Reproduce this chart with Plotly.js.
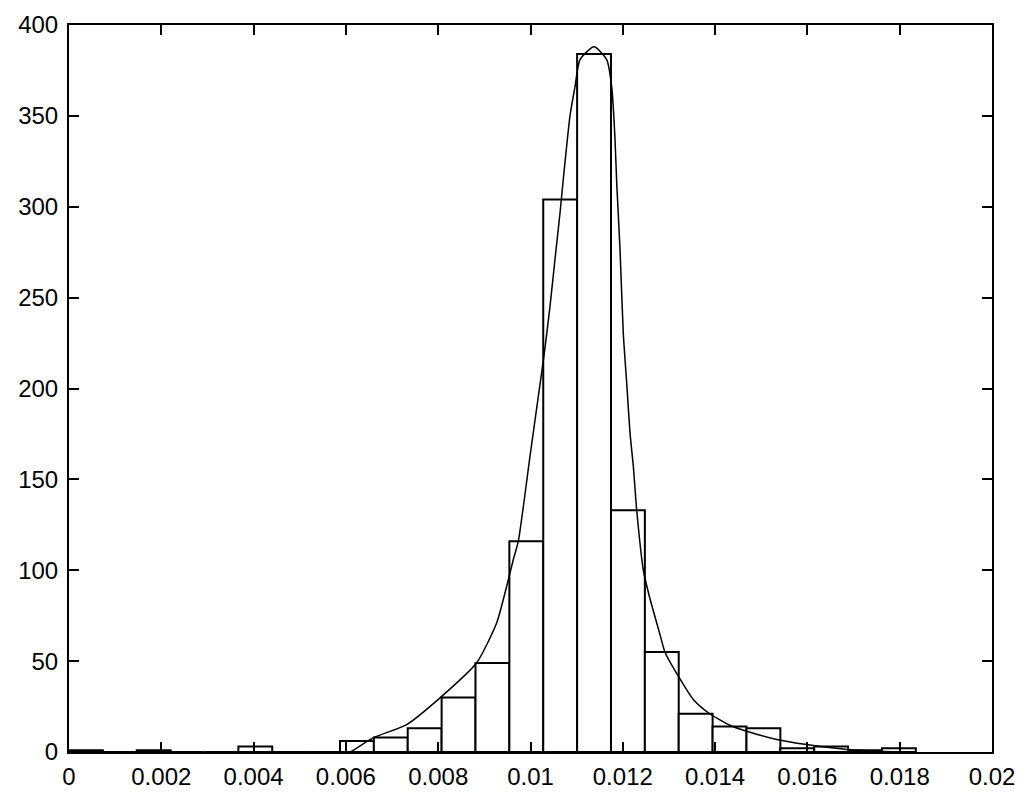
<!DOCTYPE html>
<html>
<head>
<meta charset="utf-8">
<script src="https://cdn.plot.ly/plotly-3.0.1.min.js"></script>
<style>
  html, body { margin: 0; padding: 0; background: #fff; }
  #chart { width: 1024px; height: 800px; }
</style>
</head>
<body>
<div id="chart"></div>
<script>
// Histogram bin centres (25 bins) and counts
var binCenters = [0.000367, 0.001101, 0.001835, 0.002569, 0.003303, 0.004037, 0.004771,
  0.005505, 0.006239, 0.006973, 0.007707, 0.008441, 0.009175, 0.009909, 0.010643,
  0.011377, 0.012111, 0.012845, 0.013579, 0.014313, 0.015047, 0.015781, 0.016515,
  0.017249, 0.017983];
var binWidth = 0.000734;
var counts = [1, 0, 1, 0, 0, 3, 0, 0, 6, 8, 13, 30, 49, 116, 304, 384, 133, 55, 21, 14, 13, 2, 3, 1, 2];

// Fitted curve points
var fitX = [0.006104, 0.006594, 0.007317, 0.008039, 0.008834, 0.009268, 0.009484, 0.009628,
  0.009736, 0.009989, 0.01019, 0.0103, 0.010423, 0.01053, 0.01064, 0.01071, 0.010856,
  0.010964, 0.011073, 0.011376, 0.011651, 0.01176, 0.01183, 0.011868, 0.01194, 0.01201,
  0.012085, 0.012156, 0.012228, 0.0123, 0.012445, 0.012575, 0.012806, 0.012914, 0.013203,
  0.013528, 0.013853, 0.014323, 0.014685, 0.015335, 0.015985, 0.016852, 0.01785];
var fitY = [0, 7.8, 15.1, 29.8, 49.1, 71.1, 91.2, 105.9, 116, 162.7, 199.4, 219.6, 245.3,
  271, 296.7, 315, 350, 366, 381, 388, 381, 366, 338, 313, 276.5, 230.6, 203, 175.6, 157.2,
  133.4, 100, 85.7, 64.6, 54.9, 41.7, 28.9, 21.6, 14.7, 11.4, 6.9, 4.1, 1.4, 0.1];

// Tick labels
var xTickVals = [0, 0.002, 0.004, 0.006, 0.008, 0.01, 0.012, 0.014, 0.016, 0.018, 0.02];
var xTickText = ['0', '0.002', '0.004', '0.006', '0.008', '0.01', '0.012', '0.014', '0.016', '0.018', '0.02'];
var yTickVals = [0, 50, 100, 150, 200, 250, 300, 350, 400];
var yTickText = ['0', '50', '100', '150', '200', '250', '300', '350', '400'];

var widths = binCenters.map(function () { return binWidth; });

var bars = {
  type: 'bar',
  x: binCenters,
  y: counts,
  width: widths,
  marker: { color: '#ffffff', line: { color: '#000000', width: 2 } },
  hoverinfo: 'x+y',
  showlegend: false
};

var curve = {
  type: 'scatter',
  mode: 'lines',
  x: fitX,
  y: fitY,
  line: { color: '#000000', width: 1.5, shape: 'spline', smoothing: 0.6 },
  showlegend: false
};

var axisCommon = {
  showline: true,
  linecolor: '#000000',
  linewidth: 2,
  mirror: 'ticks',
  ticks: 'inside',
  ticklen: 10,
  tickwidth: 2,
  tickcolor: '#000000',
  showgrid: false,
  zeroline: false,
  tickfont: { family: 'Liberation Sans, Arial, sans-serif', size: 24, color: '#000000' }
};

var layout = {
  width: 1024,
  height: 800,
  margin: { l: 69, r: 32, t: 25, b: 48 },
  paper_bgcolor: '#ffffff',
  plot_bgcolor: '#ffffff',
  bargap: 0,
  xaxis: Object.assign({}, axisCommon, {
    range: [0, 0.02],
    tickmode: 'array',
    tickvals: xTickVals,
    ticktext: xTickText,
    ticklabelstandoff: 2
  }),
  yaxis: Object.assign({}, axisCommon, {
    range: [0, 400],
    tickmode: 'array',
    tickvals: yTickVals,
    ticktext: yTickText,
    ticklabelstandoff: 4
  })
};

Plotly.newPlot('chart', [bars, curve], layout, { displayModeBar: false, staticPlot: true });
</script>
</body>
</html>
